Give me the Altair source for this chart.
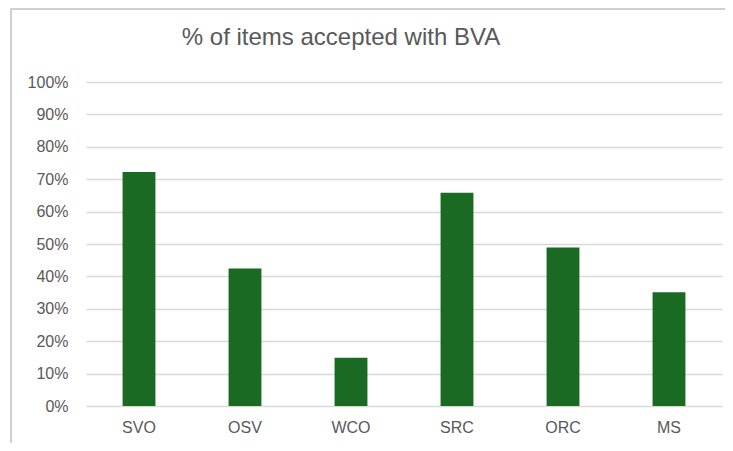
import altair as alt
import pandas as pd

categories = ["SVO", "OSV", "WCO", "SRC", "ORC", "MS"]
values = [0.722, 0.424, 0.149, 0.658, 0.489, 0.351]
title_text = "% of items accepted with BVA"

df = pd.DataFrame({"cat": categories, "val": values})

W, H = 636, 324

bars = alt.Chart(df).mark_bar(color="#1B6A24").encode(
    x=alt.X("cat:N", sort=categories, title=None,
            scale=alt.Scale(paddingInner=0.69, paddingOuter=0.345),
            axis=alt.Axis(labelAngle=0, labelFontSize=16, labelColor="#595959",
                          labelFont="Liberation Sans", labelPadding=13,
                          ticks=False, domain=False, grid=False)),
    y=alt.Y("val:Q", title=None,
            scale=alt.Scale(domain=[0, 1], nice=False),
            axis=alt.Axis(format=".0%", values=[i / 10 for i in range(11)],
                          labelFontSize=16, labelColor="#595959",
                          labelFont="Liberation Sans", labelPadding=18,
                          ticks=False, domain=False, grid=True,
                          gridColor="#D9D9D9", gridWidth=1.3)),
)

one = pd.DataFrame({"a": [0]})
top_line = alt.Chart(one).mark_rule(stroke="#D0D0D0", strokeWidth=2).encode(
    x=alt.value(-75), x2=alt.value(640), y=alt.value(-73)
)
left_line = alt.Chart(one).mark_rule(stroke="#D0D0D0", strokeWidth=2).encode(
    x=alt.value(-75), y=alt.value(-74), y2=alt.value(362)
)

title = alt.Chart(pd.DataFrame({"t": [title_text]})).mark_text(
    fontSize=24, color="#595959", font="Liberation Sans",
    align="center", baseline="middle"
).encode(
    text="t:N", x=alt.value(255), y=alt.value(-44)
)

chart = alt.layer(top_line, left_line, bars, title).properties(
    width=W, height=H,
    background="white",
    autosize=alt.AutoSizeParams(type="none"),
    padding={"left": 78, "top": 74, "right": 3, "bottom": 37},
).configure_view(stroke=None)

chart.save("out.html", embed_options={"renderer": "svg", "actions": False})
